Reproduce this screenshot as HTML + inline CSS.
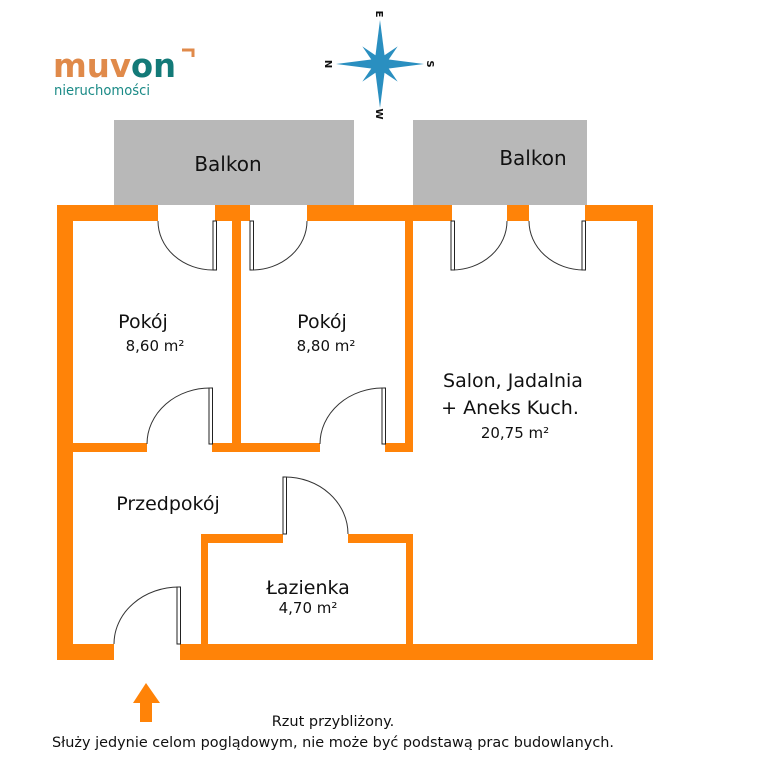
<!DOCTYPE html>
<html><head><meta charset="utf-8"><style>
html,body{margin:0;padding:0;background:#fff;}
svg{display:block;}
text{font-family:"DejaVu Sans","Liberation Sans",sans-serif;fill:#111;}
</style></head><body>
<svg width="768" height="780" viewBox="0 0 768 780" xmlns="http://www.w3.org/2000/svg">
<rect width="768" height="780" fill="#fff"/>
<!-- logo -->
<text x="53" y="77" style="font-family:'DejaVu Sans',sans-serif;font-size:33px;font-weight:bold;fill:#e08a4a" textLength="78" lengthAdjust="spacingAndGlyphs">muv</text>
<text x="131" y="77" style="font-family:'DejaVu Sans',sans-serif;font-size:33px;font-weight:bold;fill:#137a78" textLength="45" lengthAdjust="spacingAndGlyphs">on</text>
<path d="M182 50 L193 50 L193 57" fill="none" stroke="#e08a4a" stroke-width="3"/>
<text x="54" y="95" style="font-size:14px;fill:#1a8a86" textLength="96" lengthAdjust="spacingAndGlyphs">nieruchomości</text>
<!-- compass -->
<g transform="translate(380,64)">
<polygon points="0,-44 5,-5 0,0 -5,-5" fill="#2a8fc0"/>
<polygon points="0,44 5,5 0,0 -5,5" fill="#2a8fc0"/>
<polygon points="-44,0 -5,-5 0,0 -5,5" fill="#2a8fc0"/>
<polygon points="44,0 5,-5 0,0 5,5" fill="#2a8fc0"/>
<g transform="rotate(45)">
<polygon points="0,-25 4,-4 0,0 -4,-4" fill="#2a8fc0"/>
<polygon points="0,25 4,4 0,0 -4,4" fill="#2a8fc0"/>
<polygon points="-25,0 -4,-4 0,0 -4,4" fill="#2a8fc0"/>
<polygon points="25,0 4,-4 0,0 4,4" fill="#2a8fc0"/>
</g>
<text x="0" y="-46" text-anchor="middle" style="font-size:10px;font-weight:bold" transform="rotate(90 0 -50)">E</text>
<text x="-51" y="4" text-anchor="middle" style="font-size:10px;font-weight:bold" transform="rotate(90 -51 0)">N</text>
<text x="51" y="4" text-anchor="middle" style="font-size:10px;font-weight:bold" transform="rotate(90 51 0)">S</text>
<text x="0" y="54" text-anchor="middle" style="font-size:10px;font-weight:bold" transform="rotate(90 0 50)">W</text>
</g>
<!-- balconies -->
<rect x="114" y="120" width="240" height="85" fill="#b8b8b8"/>
<rect x="413" y="120" width="174" height="85" fill="#b8b8b8"/>
<text x="228" y="171" text-anchor="middle" style="font-size:20px">Balkon</text>
<text x="533" y="165" text-anchor="middle" style="font-size:20px">Balkon</text>
<!-- walls -->
<g fill="#ff8308">
<rect x="57" y="205" width="101" height="16"/>
<rect x="215" y="205" width="35" height="16"/>
<rect x="307" y="205" width="145" height="16"/>
<rect x="507" y="205" width="22" height="16"/>
<rect x="585" y="205" width="68" height="16"/>
<rect x="57" y="205" width="16" height="455"/>
<rect x="637" y="205" width="16" height="455"/>
<rect x="57" y="644" width="57" height="16"/>
<rect x="180" y="644" width="473" height="16"/>
<rect x="232" y="221" width="9" height="230"/>
<rect x="405" y="221" width="8" height="230"/>
<rect x="57" y="443" width="90" height="9"/>
<rect x="212" y="443" width="108" height="9"/>
<rect x="385" y="443" width="28" height="9"/>
<rect x="201" y="534" width="7" height="115"/>
<rect x="406" y="534" width="7" height="115"/>
<rect x="201" y="534" width="82" height="9"/>
<rect x="348" y="534" width="65" height="9"/>
</g>
<!-- doors -->
<g fill="#fff" stroke="#222" stroke-width="1">
<rect x="213" y="221" width="3.5" height="49"/>
<rect x="250" y="221" width="3.5" height="49"/>
<rect x="451" y="221" width="3.5" height="49"/>
<rect x="582" y="221" width="3.5" height="49"/>
<rect x="209" y="388" width="3.5" height="56"/>
<rect x="382" y="388" width="3.5" height="56"/>
<rect x="283" y="477" width="3.5" height="57"/>
<rect x="177" y="587" width="3.5" height="57"/>
</g>
<g fill="none" stroke="#333" stroke-width="1">
<path d="M158 221 A55 49 0 0 0 213 270"/>
<path d="M307 221 A55 49 0 0 1 252 270"/>
<path d="M507 221 A55 49 0 0 1 452 270"/>
<path d="M529 221 A55 49 0 0 0 584 270"/>
<path d="M147 444 A63 56 0 0 1 211 388"/>
<path d="M320 444 A63 56 0 0 1 384 388"/>
<path d="M348 534 A63 57 0 0 0 285 477"/>
<path d="M114 644 A65 57 0 0 1 179 587"/>
</g>
<!-- labels -->
<text x="143" y="328" text-anchor="middle" style="font-size:19px">Pokój</text>
<text x="155" y="351" text-anchor="middle" style="font-size:15px">8,60 m²</text>
<text x="322" y="328" text-anchor="middle" style="font-size:19px">Pokój</text>
<text x="326" y="351" text-anchor="middle" style="font-size:15px">8,80 m²</text>
<text x="513" y="387" text-anchor="middle" style="font-size:19px">Salon, Jadalnia</text>
<text x="510" y="414" text-anchor="middle" style="font-size:19px">+ Aneks Kuch.</text>
<text x="515" y="438" text-anchor="middle" style="font-size:15px">20,75 m²</text>
<text x="168" y="510" text-anchor="middle" style="font-size:19px">Przedpokój</text>
<text x="308" y="594" text-anchor="middle" style="font-size:19px">Łazienka</text>
<text x="308" y="613" text-anchor="middle" style="font-size:15px">4,70 m²</text>
<!-- arrow -->
<polygon points="146,683 160,703 152,703 152,722 140,722 140,703 133,703" fill="#ff8308"/>
<text x="333" y="726" text-anchor="middle" style="font-size:14.5px">Rzut przybliżony.</text>
<text x="333" y="747" text-anchor="middle" style="font-size:14.5px" textLength="562" lengthAdjust="spacingAndGlyphs">Służy jedynie celom poglądowym, nie może być podstawą prac budowlanych.</text>
</svg>
</body></html>
